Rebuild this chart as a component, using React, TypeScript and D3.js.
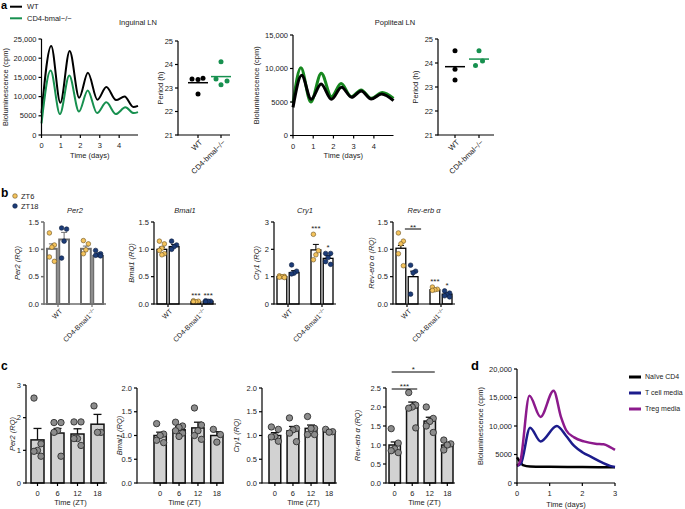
import React from 'react';
import * as d3 from 'd3';

const FONT = "'Liberation Sans', Arial, Helvetica, sans-serif";
const TXT = '#222';
const GREEN = '#17904f';
const GREEN2 = '#17881f';
const YEL = '#f4c35c';
const NAVY = '#1c3c78';
const GREYBAR = '#d2d2d2';
const GREYDOT = '#8c8c8c';
const TCELL = '#1c1c8c';
const TREG = '#8c1a8c';

// ---------- Panel a ----------
const legendA = ['WT', 'CD4-bmal−/−'];
const ingWT: [number, number][] = [[0, 5700], [0.5, 23200], [0.97, 8400], [1.45, 21900], [1.94, 9700], [2.39, 16200], [2.88, 9200], [3.34, 12500], [3.84, 9100], [4.28, 10000], [4.73, 7300], [4.97, 7600]];
const ingKO: [number, number][] = [[0, 3000], [0.47, 16800], [0.95, 5450], [1.43, 15500], [1.93, 6100], [2.38, 11600], [2.86, 5700], [3.34, 8500], [3.83, 5450], [4.32, 7200], [4.75, 5700], [4.97, 5950]];
const popWT: [number, number][] = [[0, 4200], [0.43, 9000], [0.9, 5400], [1.39, 7700], [1.9, 5400], [2.4, 7200], [2.9, 5700], [3.37, 6650], [3.87, 5450], [4.38, 6200], [4.97, 5200]];
const popKO: [number, number][] = [[0, 4800], [0.39, 10100], [0.88, 5000], [1.4, 9300], [1.9, 5800], [2.38, 7750], [2.88, 5800], [3.37, 6800], [3.87, 5550], [4.42, 6400], [4.97, 5550]];
const dayTicksA = [0, 1, 2, 3, 4];
const lumTicksIng = [0, 5000, 10000, 15000, 20000, 25000];
const lumTicksPop = [0, 5000, 10000, 15000];
const periodTicks = [21, 22, 23, 24, 25];
const ingPeriodWT = [23.38, 23.36, 23.42, 22.74];
const ingPeriodKO = [24.12, 23.38, 23.14, 23.3];
const popPeriodWT = [24.51, 23.74, 23.29];
const popPeriodKO = [24.51, 24.08, 23.9];

// ---------- Panel b ----------
const bGroups = ['WT', 'CD4'];
const bTimes = ['ZT6', 'ZT18'];
// order: WT ZT6, WT ZT18, CD4 ZT6, CD4 ZT18
const per2BMean = [1.01, 1.18, 1.01, 0.88];
const per2BSem = [0.09, 0.13, 0.05, 0.02];
const per2BDots = [[1.3, 1.08, 1.04, 0.86, 0.78], [1.39, 1.37, 1.15, 0.84], [1.16, 1.1, 0.99, 0.92], [0.98, 0.92, 0.9, 0.89, 0.88]];
const bmal1BMean = [1.0, 1.05, 0.04, 0.05];
const bmal1BSem = [0.04, 0.04, 0.01, 0.01];
const bmal1BDots = [[1.15, 1.1, 1.02, 0.98, 0.92, 0.9], [1.15, 1.08, 1.05, 1.0], [0.06, 0.05, 0.04, 0.04], [0.06, 0.05, 0.05, 0.04]];
const cry1BMean = [1.0, 1.15, 1.98, 1.67];
const cry1BSem = [0.02, 0.07, 0.2, 0.1];
const cry1BDots = [[1.03, 1.01, 1.0, 0.98, 0.97], [1.43, 1.2, 1.13, 1.1], [2.55, 1.95, 1.8, 1.62], [1.85, 1.85, 1.7, 1.55, 1.45]];
const revBMean = [1.02, 0.5, 0.26, 0.18];
const revBSem = [0.05, 0.1, 0.02, 0.02];
const revBDots = [[1.3, 1.15, 1.1, 0.92, 0.7], [0.71, 0.6, 0.57, 0.18], [0.31, 0.27, 0.26, 0.25], [0.24, 0.2, 0.17, 0.15, 0.13]];
const rqTicks15 = [0, 0.5, 1.0, 1.5];
const rqTicks3 = [0, 1, 2, 3];

// ---------- Panel c ----------
const ztCats = ['0', '6', '12', '18'];
const per2CMean = [1.32, 1.53, 1.5, 1.8];
const per2CSem = [0.35, 0.14, 0.16, 0.3];
const per2CDots = [[2.6, 1.2, 1.0, 0.97, 0.82], [1.85, 1.85, 1.6, 1.55, 0.82], [1.87, 1.87, 1.36, 1.36, 1.15], [2.36, 1.55, 1.55]];
const bmal1CMean = [1.0, 1.12, 1.16, 1.0];
const bmal1CSem = [0.07, 0.07, 0.12, 0.08];
const bmal1CDots = [[1.25, 1.03, 1.0, 0.9, 0.85], [1.28, 1.2, 1.17, 1.1, 1.05, 0.98], [1.58, 1.22, 1.1, 1.0, 0.92], [1.13, 1.02, 0.86]];
const cry1CMean = [1.0, 1.1, 1.15, 1.08];
const cry1CSem = [0.06, 0.09, 0.07, 0.03];
const cry1CDots = [[1.18, 1.13, 0.98, 0.97, 0.88], [1.37, 1.15, 1.12, 1.05, 0.87], [1.4, 1.15, 1.15, 1.02, 1.02], [1.13, 1.08, 1.07]];
const revCMean = [1.0, 1.98, 1.63, 1.0];
const revCSem = [0.08, 0.15, 0.1, 0.06];
const revCDots = [[1.43, 1.05, 0.9, 0.85, 0.8], [2.38, 2.05, 2.0, 1.97, 1.45], [2.0, 1.7, 1.62, 1.5, 1.33], [1.13, 1.03, 1.0, 0.87]];
const cTicks3 = [0, 1, 2, 3];
const cTicks2 = [0, 0.5, 1.0, 1.5, 2.0];
const cTicks25 = [0, 0.5, 1.0, 1.5, 2.0, 2.5];

// ---------- Panel d ----------
const dLegend = ['Naïve CD4', 'T cell media', 'Treg media'];
const naive: [number, number][] = [[0, 4500], [0.07, 3900], [0.18, 3150], [0.4, 2900], [1, 2850], [2, 2800], [3, 2750]];
const tcell: [number, number][] = [[0, 3000], [0.12, 3400], [0.4, 9700], [0.72, 7300], [1.22, 10000], [1.5, 8300], [1.75, 6500], [2.0, 5400], [2.3, 4500], [2.6, 3600], [2.85, 3000], [3, 2800]];
const treg: [number, number][] = [[0, 3000], [0.1, 3800], [0.38, 15300], [0.72, 11600], [1.12, 16200], [1.35, 11500], [1.5, 9300], [1.75, 8000], [2.05, 7300], [2.4, 6900], [2.65, 6800], [2.85, 6300], [3, 5800]];
const dayTicksD = [0, 1, 2, 3];
const lumTicksD = [0, 5000, 10000, 15000, 20000];

const JIT_B = [-2.5, 2.5, 0, -2.5, 2.5, 0];
const JIT_C = [-3.5, 3.5, 0, -3.5, 3.5, 0];

const fmtLum = (v: number) => (v >= 10000 ? d3.format(',')(v) : String(v));
const fmt1 = d3.format('.1f');
const fmt0 = d3.format('d');

const FS = 7.5;

function VLabel({ x, y, children, italic = false, fs = FS }: any) {
  return (
    <text transform={`translate(${x},${y}) rotate(-90)`} textAnchor="middle" dy="0.35em" fontSize={fs} fontStyle={italic ? 'italic' : 'normal'} fill={TXT}>
      {children}
    </text>
  );
}

function YAxis({ x, y, ticks, fmt, color = '#000', sw = 1.2, fs = FS }: any) {
  const [d0, d1] = y.domain();
  return (
    <g>
      <line x1={x} x2={x} y1={y(d0) + sw / 2} y2={y(d1)} stroke={color} strokeWidth={sw} />
      {ticks.map((t: number) => (
        <g key={t}>
          <line x1={x - 3} x2={x} y1={y(t)} y2={y(t)} stroke={color} strokeWidth={sw} />
          <text x={x - 5} y={y(t)} dy="0.35em" textAnchor="end" fontSize={fs} fill={TXT}>{fmt(t)}</text>
        </g>
      ))}
    </g>
  );
}

function XLine({ y, x1, x2, color = '#000', sw = 1.2 }: any) {
  return <line x1={x1} x2={x2} y1={y} y2={y} stroke={color} strokeWidth={sw} />;
}

function LumChart({ L, R, T, B, xMax, yMax, yTicks, xTicks, series, yLabelX, sw, xLabelDy = 20 }: any) {
  const x = d3.scaleLinear().domain([0, xMax]).range([L, R]);
  const y = d3.scaleLinear().domain([0, yMax]).range([B, T]);
  const line = d3.line<[number, number]>().x((d) => x(d[0])).y((d) => y(d[1])).curve(d3.curveMonotoneX);
  return (
    <g>
      {series.map((s: any, i: number) => (
        <path key={i} d={line(s.data) || ''} fill="none" stroke={s.color} strokeWidth={sw} strokeLinejoin="round" />
      ))}
      <YAxis x={L} y={y} ticks={yTicks} fmt={fmtLum} />
      <XLine y={B} x1={L} x2={R} />
      {xTicks.map((t: number) => (
        <g key={t}>
          <line x1={x(t)} x2={x(t)} y1={B} y2={B + 3} stroke="#000" strokeWidth={1.2} />
          <text x={x(t)} y={B + 10.5} dy="0.35em" textAnchor="middle" fontSize={FS} fill={TXT}>{t}</text>
        </g>
      ))}
      <text x={(L + R) / 2} y={B + xLabelDy} dy="0.35em" textAnchor="middle" fontSize={FS} fill={TXT}>Time (days)</text>
      <VLabel x={yLabelX} y={(T + B) / 2}>Bioluminescence (cpm)</VLabel>
    </g>
  );
}

function PeriodChart({ L, R, T, B, c1, c2, wt, ko, koColor, labelX, jWT, jKO }: any) {
  const y = d3.scaleLinear().domain([21, 25]).range([B, T]);
  const x = d3.scalePoint<string>().domain(['WT', 'KO']).range([c1, c2]);
  const groups = [
    { key: 'WT', vals: wt, color: '#000', jit: jWT, label: 'WT' },
    { key: 'KO', vals: ko, color: koColor, jit: jKO, label: legendA[1] },
  ];
  return (
    <g>
      <YAxis x={L} y={y} ticks={periodTicks} fmt={fmt0} />
      <XLine y={B} x1={L} x2={R} />
      {groups.map((g) => {
        const cx = x(g.key) as number;
        const m = d3.mean(g.vals as number[]) as number;
        return (
          <g key={g.key}>
            <line x1={cx} x2={cx} y1={B} y2={B + 3} stroke="#000" strokeWidth={1.2} />
            {g.vals.map((v: number, i: number) => (
              <circle key={i} cx={cx + g.jit[i]} cy={y(v)} r={2.5} fill={g.color} />
            ))}
            <line x1={cx - 10} x2={cx + 10} y1={y(m)} y2={y(m)} stroke={g.color} strokeWidth={1.5} />
            <text transform={`translate(${cx + 3},${B + 6}) rotate(-45)`} textAnchor="end" dy="0.35em" fontSize={FS} fill={TXT}>{g.label}</text>
          </g>
        );
      })}
      <VLabel x={labelX} y={(T + B) / 2}>Period (h)</VLabel>
    </g>
  );
}

function BarB({ L, title, yMax, ticks, fmt, means, sems, dots, gray = false, yLabelX, stars = [], bracket = null }: any) {
  const T = 222, B = 304, W = 62;
  const y = d3.scaleLinear().domain([0, yMax]).range([B, T]);
  const gx = d3.scaleBand<string>().domain(bGroups).range([L + 3, L + 59]).paddingInner(0.353);
  const sx = d3.scaleBand<string>().domain(bTimes).range([0, gx.bandwidth()]).paddingInner(0.2);
  const axColor = gray ? '#6e6e6e' : '#000';
  const barStroke = gray ? '#6e6e6e' : '#000';
  const barSw = gray ? 2 : 1.3;
  const cxOf = (i: number) => (gx(bGroups[Math.floor(i / 2)]) as number) + (sx(bTimes[i % 2]) as number) + sx.bandwidth() / 2;
  const bw = sx.bandwidth();
  return (
    <g>
      <text x={L + 31} y={213} textAnchor="middle" fontSize={FS} fontStyle="italic" fill={TXT}>{title}</text>
      {means.map((m: number, i: number) => {
        const cx = cxOf(i);
        const col = i % 2 === 0 ? YEL : NAVY;
        return (
          <g key={i}>
            <rect x={cx - bw / 2} y={y(m)} width={bw} height={B - y(m)} fill="#fff" stroke={barStroke} strokeWidth={barSw} />
            <line x1={cx} x2={cx} y1={y(m)} y2={y(m + sems[i])} stroke={barStroke} strokeWidth={1} />
            <line x1={cx - 3} x2={cx + 3} y1={y(m + sems[i])} y2={y(m + sems[i])} stroke={barStroke} strokeWidth={1} />
            {dots[i].map((v: number, k: number) => (
              <circle key={k} cx={cx + JIT_B[k % JIT_B.length]} cy={y(v)} r={2.3} fill={col} stroke={i % 2 === 0 ? '#6b5220' : '#0c1c3c'} strokeWidth={0.6} />
            ))}
          </g>
        );
      })}
      {stars.map((s: any, k: number) => {
        const top = Math.max(means[s.i] + sems[s.i], d3.max(dots[s.i] as number[]) as number);
        return (
          <text key={k} x={cxOf(s.i)} y={y(top) - 3} textAnchor="middle" fontSize={8} fill={TXT}>{s.text}</text>
        );
      })}
      {bracket && (
        <g>
          <line x1={cxOf(bracket.a) + 4} x2={cxOf(bracket.b) + 8} y1={bracket.y} y2={bracket.y} stroke="#000" strokeWidth={1} />
          <text x={(cxOf(bracket.a) + cxOf(bracket.b)) / 2 + 6} y={bracket.y + 0.5} textAnchor="middle" fontSize={8} fill={TXT}>{bracket.text}</text>
        </g>
      )}
      <YAxis x={L} y={y} ticks={ticks} fmt={fmt} color={axColor} sw={gray ? 1.5 : 1.2} />
      <XLine y={B} x1={L} x2={L + W} color={axColor} sw={gray ? 1.5 : 1.2} />
      {bGroups.map((g) => {
        const cx = (gx(g) as number) + gx.bandwidth() / 2;
        return (
          <g key={g}>
            <line x1={cx} x2={cx} y1={B} y2={B + 3} stroke={axColor} strokeWidth={1.2} />
            <text transform={`translate(${cx + 3},${B + 6}) rotate(-45)`} textAnchor="end" dy="0.35em" fontSize={7} fill={TXT}>
              {g === 'WT' ? 'WT' : 'CD4-Bmal1'}
              {g === 'WT' ? null : <tspan dy="-2.5" fontSize={5}>−/−</tspan>}
            </text>
          </g>
        );
      })}
      <VLabel x={yLabelX} y={(T + B) / 2} italic>{title} (RQ)</VLabel>
    </g>
  );
}

function BarC({ L, R, x0, x1, yMax, ticks, fmt, means, sems, dots, gene, yLabelX, brackets = [] }: any) {
  const T = 483 - (yMax === 3 ? 98 : 95);
  const B = 483;
  const y = d3.scaleLinear().domain([0, yMax]).range([B, T]);
  const x = d3.scaleBand<string>().domain(ztCats).range([x0, x1]).paddingInner(0.35);
  const bw = x.bandwidth();
  const cxOf = (i: number) => (x(ztCats[i]) as number) + bw / 2;
  return (
    <g>
      {means.map((m: number, i: number) => {
        const cx = cxOf(i);
        return (
          <g key={i}>
            <rect x={cx - bw / 2} y={y(m)} width={bw} height={B - y(m)} fill={GREYBAR} stroke="#111" strokeWidth={1.5} />
            <line x1={cx} x2={cx} y1={y(m)} y2={y(m + sems[i])} stroke="#111" strokeWidth={1.3} />
            <line x1={cx - 4} x2={cx + 4} y1={y(m + sems[i])} y2={y(m + sems[i])} stroke="#111" strokeWidth={1.3} />
            {dots[i].map((v: number, k: number) => (
              <circle key={k} cx={cx + JIT_C[k % JIT_C.length]} cy={y(v)} r={3.2} fill={GREYDOT} stroke="#222" strokeWidth={0.8} />
            ))}
          </g>
        );
      })}
      {brackets.map((b: any, k: number) => (
        <g key={k}>
          <line x1={cxOf(b.a) - 3} x2={cxOf(b.b) + 5} y1={b.y} y2={b.y} stroke="#000" strokeWidth={1} />
          <text x={(cxOf(b.a) + cxOf(b.b)) / 2 + 1} y={b.y - 0.5} textAnchor="middle" fontSize={8} fill={TXT}>{b.text}</text>
        </g>
      ))}
      <YAxis x={L} y={y} ticks={ticks} fmt={fmt} />
      <XLine y={B} x1={L} x2={R} />
      {ztCats.map((c, i) => (
        <g key={c}>
          <line x1={cxOf(i)} x2={cxOf(i)} y1={B} y2={B + 3} stroke="#000" strokeWidth={1.2} />
          <text x={cxOf(i)} y={B + 10} dy="0.35em" textAnchor="middle" fontSize={FS} fill={TXT}>{c}</text>
        </g>
      ))}
      <text x={(L + R) / 2 + 4} y={B + 19.5} dy="0.35em" textAnchor="middle" fontSize={FS} fill={TXT}>Time (ZT)</text>
      <VLabel x={yLabelX} y={(T + B) / 2} italic>{gene} (RQ)</VLabel>
    </g>
  );
}

export default function App() {
  return (
    <svg width={685} height={509} style={{ position: 'absolute', left: 0, top: 0, background: '#fff' }} fontFamily={FONT}>
      <rect width={685} height={509} fill="#fff" />
      {/* Panel labels */}
      <text x={1} y={9} fontSize={11} fontWeight="bold" fill="#000">a</text>
      <text x={1} y={197} fontSize={12} fontWeight="bold" fill="#000">b</text>
      <text x={1} y={370} fontSize={12} fontWeight="bold" fill="#000">c</text>
      <text x={471} y={370} fontSize={13} fontWeight="bold" fill="#000">d</text>

      {/* Panel a legend */}
      <line x1={10} x2={22} y1={6.7} y2={6.7} stroke="#000" strokeWidth={2} />
      <text x={27} y={6.7} dy="0.35em" fontSize={7.5} fill={TXT}>{legendA[0]}</text>
      <line x1={10} x2={22} y1={18.3} y2={18.3} stroke={GREEN} strokeWidth={2} />
      <text x={27} y={18.3} dy="0.35em" fontSize={7.5} fill={TXT}>{legendA[1]}</text>

      <text x={138} y={22} dy="0.35em" textAnchor="middle" fontSize={7.5} fill={TXT}>Inguinal LN</text>
      <text x={395} y={22} dy="0.35em" textAnchor="middle" fontSize={7.5} fill={TXT}>Popliteal LN</text>

      <LumChart L={41.5} R={138} T={39} B={135} xMax={4.97} yMax={25000} yTicks={lumTicksIng} xTicks={dayTicksA}
        series={[{ data: ingWT, color: '#000' }, { data: ingKO, color: GREEN }]} yLabelX={5} sw={2} />
      <PeriodChart L={178} R={230} T={41} B={135} c1={198} c2={221} wt={ingPeriodWT} ko={ingPeriodKO} koColor={GREEN}
        labelX={160} jWT={[-6, 0, 5, 0]} jKO={[0, -5, 0, 6]} />
      <LumChart L={293} R={393.5} T={35} B={135.5} xMax={4.97} yMax={15000} yTicks={lumTicksPop} xTicks={dayTicksA}
        series={[{ data: popKO, color: GREEN2 }, { data: popWT, color: '#000' }]} yLabelX={256} sw={3} />
      <PeriodChart L={438} R={494} T={39} B={135} c1={455} c2={479} wt={popPeriodWT} ko={popPeriodKO} koColor={GREEN}
        labelX={415} jWT={[0, 0, 0]} jKO={[0, 3.5, -3.5]} />

      {/* Panel b legend */}
      <circle cx={15} cy={196} r={2.3} fill={YEL} stroke="#6b5220" strokeWidth={0.6} />
      <text x={21} y={196} dy="0.35em" fontSize={7.5} fill={TXT}>ZT6</text>
      <circle cx={15} cy={206} r={2.3} fill={NAVY} stroke="#0c1c3c" strokeWidth={0.6} />
      <text x={21} y={206} dy="0.35em" fontSize={7.5} fill={TXT}>ZT18</text>

      <BarB L={44} title="Per2" yMax={1.5} ticks={rqTicks15} fmt={fmt1} means={per2BMean} sems={per2BSem} dots={per2BDots} gray yLabelX={17} />
      <BarB L={154} title="Bmal1" yMax={1.5} ticks={rqTicks15} fmt={fmt1} means={bmal1BMean} sems={bmal1BSem} dots={bmal1BDots} yLabelX={131}
        stars={[{ i: 2, text: '***' }, { i: 3, text: '***' }]} />
      <BarB L={274} title="Cry1" yMax={3} ticks={rqTicks3} fmt={fmt0} means={cry1BMean} sems={cry1BSem} dots={cry1BDots} yLabelX={256}
        stars={[{ i: 2, text: '***' }, { i: 3, text: '*' }]} />
      <BarB L={393} title="Rev-erb α" yMax={1.5} ticks={rqTicks15} fmt={fmt1} means={revBMean} sems={revBSem} dots={revBDots} yLabelX={371}
        stars={[{ i: 2, text: '***' }, { i: 3, text: '*' }]} bracket={{ a: 0, b: 1, y: 229, text: '**' }} />

      {/* Panel c */}
      <BarC L={26} R={107} x0={31} x1={104} yMax={3} ticks={cTicks3} fmt={fmt0} means={per2CMean} sems={per2CSem} dots={per2CDots} gene="Per2" yLabelX={12} />
      <BarC L={137} R={224} x0={154} x1={223} yMax={2} ticks={cTicks2} fmt={fmt1} means={bmal1CMean} sems={bmal1CSem} dots={bmal1CDots} gene="Bmal1" yLabelX={119} />
      <BarC L={262} R={337} x0={269} x1={335} yMax={2} ticks={cTicks2} fmt={fmt1} means={cry1CMean} sems={cry1CSem} dots={cry1CDots} gene="Cry1" yLabelX={236} />
      <BarC L={386} R={455} x0={389} x1={453} yMax={2.5} ticks={cTicks25} fmt={fmt1} means={revCMean} sems={revCSem} dots={revCDots} gene="Rev-erb α" yLabelX={357}
        brackets={[{ a: 0, b: 1, y: 389, text: '***' }, { a: 0, b: 2, y: 372, text: '*' }]} />

      {/* Panel d */}
      <LumChart L={517} R={615} T={369} B={483} xMax={3} yMax={20000} yTicks={lumTicksD} xTicks={dayTicksD}
        series={[{ data: naive, color: '#000' }, { data: tcell, color: TCELL }, { data: treg, color: TREG }]} yLabelX={480} sw={2.5} xLabelDy={21} />
      {dLegend.map((l, i) => (
        <g key={l}>
          <line x1={629} x2={641} y1={377 + i * 16} y2={377 + i * 16} stroke={['#000', TCELL, TREG][i]} strokeWidth={3} />
          <text x={645} y={377 + i * 16} dy="0.35em" fontSize={7} fill={TXT}>{l}</text>
        </g>
      ))}
    </svg>
  );
}
